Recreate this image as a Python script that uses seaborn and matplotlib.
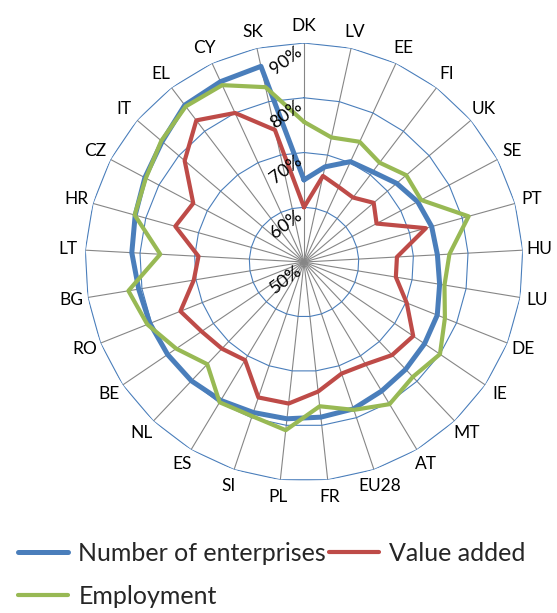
import numpy as np
import pandas as pd
import matplotlib
matplotlib.use("Agg")
import matplotlib.pyplot as plt
import matplotlib.transforms as mtransforms
import seaborn as sns

countries = ["DK", "LV", "EE", "FI", "UK", "SE", "PT", "HU", "LU", "DE", "IE", "MT",
             "AT", "EU28", "FR", "PL", "SI", "ES", "NL", "BE", "RO", "BG", "LT", "HR",
             "CZ", "IT", "EL", "CY", "SK"]

enterprises = [65.0, 67.8, 70.2, 70.7, 72.2, 73.5, 74.2, 74.4, 75.1, 76.2, 76.6, 77.0,
               77.5, 78.3, 78.5, 78.8, 79.0, 79.5, 79.9, 80.1, 80.3, 80.6, 81.5, 82.0,
               82.9, 84.0, 86.0, 86.3, 86.6]
value_added = [60.0, 66.1, 65.1, 64.8, 66.7, 65.0, 73.1, 67.0, 67.0, 70.2, 74.1, 73.4,
               71.8, 71.5, 73.8, 76.0, 76.1, 70.9, 71.8, 72.6, 74.3, 70.4, 69.3, 74.4,
               72.9, 78.6, 82.5, 80.0, 74.7]
employment = [75.6, 73.3, 74.2, 72.8, 74.5, 74.2, 81.2, 76.6, 76.0, 77.7, 80.0, 78.9,
              80.3, 78.5, 76.5, 80.9, 79.7, 79.9, 75.7, 78.2, 80.8, 82.5, 76.3, 82.1,
              82.7, 84.2, 85.7, 85.6, 82.7]

series_names = ["Number of enterprises", "Value added", "Employment"]
colors = ["#4a7ebb", "#be4b48", "#98b954"]
widths = [3.6, 3.0, 3.0]
ring_ticks = [50, 60, 70, 80, 90]

sns.set_theme(style="white")
plt.rcParams["font.family"] = ["Lato", "DejaVu Sans"]

n = len(countries)
theta = np.linspace(0, 2 * np.pi, n, endpoint=False)
theta_closed = np.append(theta, 2 * np.pi)

fig = plt.figure(figsize=(5.57, 6.13), dpi=100)
ax = fig.add_axes([0.1526, 0.2153, 0.7864, 0.7145], projection="polar")
ax.set_theta_zero_location("N")
ax.set_theta_direction(-1)
ax.set_ylim(50, 90)
ax.grid(False)
ax.spines["polar"].set_visible(False)
ax.set_xticks([])
ax.set_yticks([])

# spokes
for t in theta:
    ax.plot([t, t], [50, 90], color="#868686", lw=0.8, zorder=1)
# polygon rings
for r in ring_ticks[1:]:
    ax.plot(theta_closed, [r] * (n + 1), color="#4a7ebb", lw=0.8, zorder=1)

handles = []
for name, vals, col, lw in zip(series_names, [enterprises, value_added, employment], colors, widths):
    d = pd.DataFrame({"theta": theta_closed, "value": list(vals) + [vals[0]]})
    sns.lineplot(data=d, x="theta", y="value", sort=False, color=col, lw=lw,
                 ax=ax, zorder=3, label=name, legend=False)
    handles.append(ax.lines[-1])

ax.set_xlabel("")
ax.set_ylabel("")

# category labels
for t, c in zip(theta, countries):
    ax.text(t, 93.1, c, ha="center", va="center", fontsize=12.5, color="black", clip_on=False)

# radial labels
shifted = mtransforms.offset_copy(ax.transData, fig=fig, x=-9, y=0, units="dots")
for r in ring_ticks:
    ax.text(0, r, f"{r}%", ha="right", va="top", rotation=37, rotation_mode="anchor",
            fontsize=13, color="black", zorder=4, transform=shifted)

order = [0, 2, 1]
fig.legend([handles[i] for i in order], [series_names[i] for i in order],
           loc="upper left", bbox_to_anchor=(0.015, 0.132), ncol=2, frameon=False,
           fontsize=18, handlelength=2.0, handletextpad=0.4, columnspacing=0.1,
           labelspacing=0.8, borderaxespad=0)

fig.savefig("out.png", dpi=100)
